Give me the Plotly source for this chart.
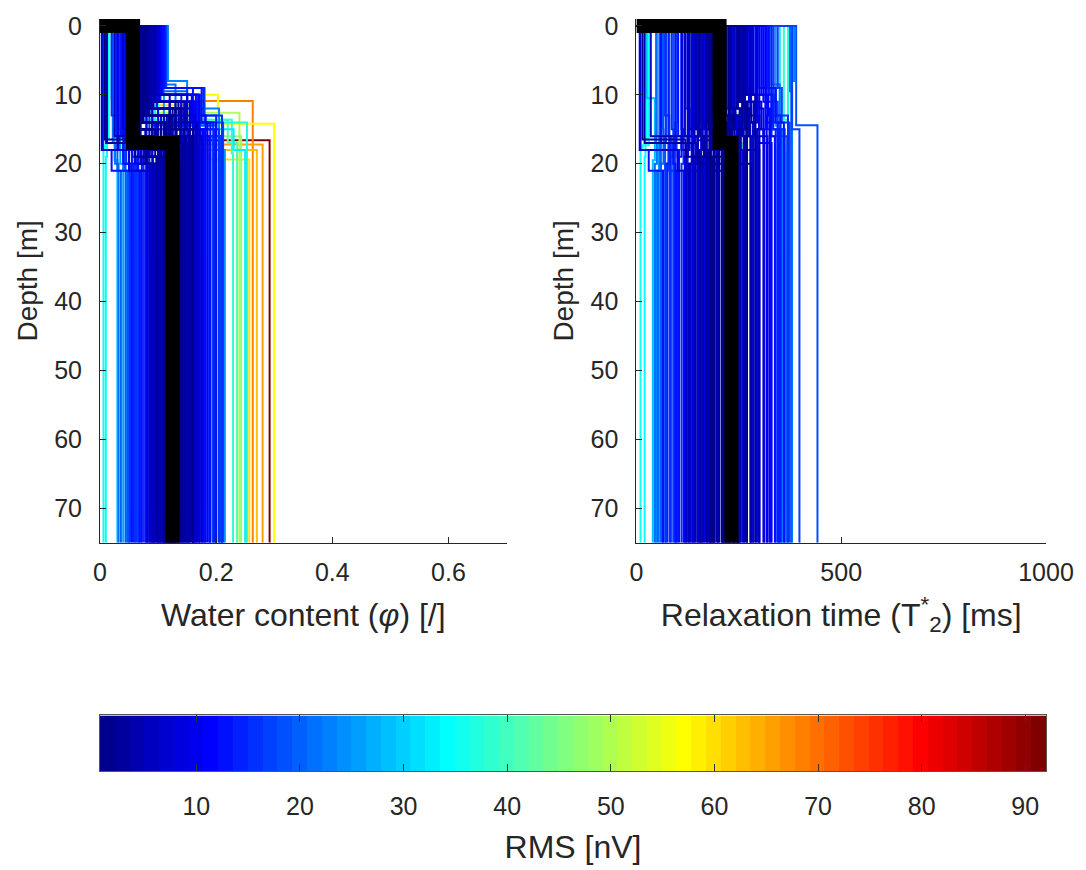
import numpy as np
import plotly.graph_objects as go

# ---------------- data (one entry per inversion model) ----------------
rms = [92.0, 68.5, 66.0, 63.0, 57.0, 59.5, 50.0, 46.5, 42.0,
       38.0, 36.0, 34.5, 37.0, 33.0,
       28.0, 26.0, 24.0, 25.0, 23.0, 21.0, 20.0, 18.0, 17.0,
       19.0, 18.5, 17.5, 16.0, 15.0, 14.0, 13.0, 12.0, 14.5, 16.5, 13.5, 15.5,
       11.0, 10.0, 9.0, 8.0, 7.0, 6.0, 5.0, 4.0, 3.0, 2.0, 1.5, 2.5, 3.5, 4.5,
       5.5, 6.5, 7.5, 8.5, 9.5, 10.5, 11.5, 0.7, 12.5, 1.0, 3.2, 5.2, 7.8,
       1.2, 1.8, 2.2, 2.8, 3.4, 3.8, 4.2, 4.8, 5.4, 5.8, 6.2, 6.8, 7.2, 7.6, 8.2, 8.8,
       9.2, 9.8, 10.2, 10.8, 11.2, 11.8, 12.2, 12.8,
       1.3, 2.3, 3.3, 4.3, 5.3, 6.3, 7.3, 8.3, 9.3, 10.3, 11.3, 12.3,
       1.6, 2.6, 3.6, 4.6, 5.6, 6.6, 7.7, 8.6, 9.6, 10.6, 11.6, 12.6,
       0.9, 1.9, 2.9, 3.9, 4.9, 5.9, 6.9, 7.9, 8.9, 9.9, 10.9, 11.9,
       14.2, 15.2, 16.2, 17.2, 18.2, 13.8, 14.8, 15.8, 16.8, 17.8, 19.5, 20.5, 22.0, 13.2, 14.6]
depth1 = [16.6, 10.9, 12.0, 13.0, 10.0, 11.5, 12.6, 11.0, 13.6,
          13.6, 17.3, 16.5, 14.0, 15.0,
          10.5, 16.0, 15.0, 14.5, 8.0, 8.5, 9.5, 14.4, 15.0,
          16, 15, 14, 13, 15, 12, 17, 11, 10, 9, 9, 10,
          12, 13, 14, 15, 16, 12, 13, 14, 15, 11, 16, 17, 12, 10,
          15, 13, 14, 18, 16, 12, 11, 17, 18, 16.5, 17, 16, 18,
          15, 14, 13, 12, 16, 15, 11, 12, 17, 16, 13, 14, 10, 11, 15, 16,
          12, 13, 14, 11, 15, 10, 17, 16,
          13, 14, 12, 15, 11, 16, 14, 13, 12, 17, 10, 9,
          16, 15, 14, 13, 12, 11, 10, 15, 16, 14, 13, 18,
          14, 13, 15, 16, 12, 11, 17, 13, 14, 10, 11, 16,
          16, 15, 17, 14, 16, 10, 9, 10, 11, 9, 15, 16, 17, 12, 11]
depth2 = [16.6, 10.9, 17.2, 18.0, 14.2, 19.4, 12.6, 16.0, 17.0,
          18.5, 18.0, 19.0, 16.0, 18.0,
          19.5, 20.0, 21.0, 18.0, 12.0, 15.0, 16.0, 14.4, 16.0,
          20, 19, 18, 21, 20, 18, 20, 17, 15, 16, 14, 13,
          18, 19, 17, 18, 19, 16, 17, 18, 19, 15, 18, 18, 14, 16,
          20, 15, 16, 20, 21, 17, 14, 17, 21, 19, 20, 18, 21,
          18, 17, 16, 17, 19, 20, 15, 16, 20, 18, 18, 19, 14, 15, 19, 20,
          16, 17, 18, 16, 17, 15, 21, 19,
          15, 16, 15, 18, 14, 19, 17, 16, 18, 20, 13, 14,
          19, 18, 17, 16, 15, 14, 13, 19, 20, 18, 17, 21,
          17, 16, 18, 18, 16, 15, 19, 17, 18, 14, 15, 19,
          20, 19, 20, 18, 21, 14, 13, 15, 16, 14, 20, 21, 20, 16, 15]
phi1 = [.060, .050, .045, .070, .080, .050, .040, .060, .070,
        .090, .010, .015, .100, .095,
        .020, .030, .035, .110, .117, .112, .100, .090, .085,
        .040, .045, .050, .020, .030, .060, .010, .070, .080, .090, .100, .105,
        .065, .070, .075, .080, .050, .085, .090, .060, .070, .080, .055, .050, .075, .095,
        .040, .085, .060, .030, .045, .090, .100, .060, .005, .008, .012, .025, .003,
        .062, .068, .072, .078, .058, .052, .088, .092, .045, .048, .082, .074, .098, .102, .066, .054,
        .086, .080, .070, .094, .064, .104, .042, .036,
        .076, .070, .084, .064, .096, .056, .068, .080, .090, .046, .106, .110,
        .060, .066, .072, .078, .086, .092, .098, .062, .050, .058, .066, .032,
        .074, .082, .060, .054, .090, .094, .048, .076, .068, .100, .096, .040,
        .038, .042, .032, .046, .028, .108, .112, .106, .102, .114, .036, .026, .022, .098, .104]
phi2 = [.292, .263, .150, .120, .203, .160, .240, .180, .220,
        .227, .008, .012, .253, .230,
        .025, .035, .040, .200, .150, .130, .150, .200, .170,
        .045, .055, .060, .050, .060, .080, .040, .120, .140, .150, .160, .170,
        .100, .090, .110, .100, .070, .120, .130, .090, .100, .130, .100, .110, .140, .120,
        .070, .150, .140, .060, .080, .140, .170, .120, .020, .060, .080, .090, .050,
        .095, .105, .115, .125, .085, .078, .135, .145, .070, .075, .110, .100, .150, .155, .090, .080,
        .140, .125, .095, .160, .100, .165, .065, .060,
        .120, .110, .130, .095, .145, .085, .115, .130, .140, .075, .170, .175,
        .095, .100, .110, .120, .130, .140, .150, .085, .075, .090, .105, .055,
        .112, .122, .090, .088, .138, .148, .078, .118, .098, .158, .162, .066,
        .050, .055, .045, .058, .042, .172, .178, .168, .172, .180, .040, .030, .026, .160, .166]
phi3 = [.292, .263, .280, .270, .300, .257, .240, .243, .236,
        .229, .006, .010, .253, .250,
        .030, .040, .045, .215, .205, .180, .195, .200, .210,
        .050, .060, .065, .070, .075, .085, .080, .170, .180, .190, .200, .210,
        .110, .100, .120, .130, .090, .140, .150, .105, .115, .160, .125, .130, .155, .145,
        .095, .165, .175, .085, .100, .160, .185, .128, .055, .110, .140, .160, .120,
        .112, .118, .135, .142, .098, .092, .152, .158, .088, .082, .138, .122, .168, .172, .108, .094,
        .148, .135, .102, .162, .112, .178, .078, .072,
        .132, .126, .146, .106, .166, .104, .124, .142, .152, .092, .182, .190,
        .116, .120, .128, .134, .144, .154, .164, .097, .087, .103, .117, .068,
        .124, .137, .109, .101, .149, .161, .091, .129, .114, .171, .176, .081,
        .058, .062, .052, .066, .048, .195, .200, .205, .208, .212, .044, .036, .032, .188, .198]
t2_1 = [150, 170, 160, 200, 140, 180, 220, 130, 210,
        360, 30, 25, 370, 350,
        25, 50, 60, 340, 385, 330, 375, 390, 380,
        80, 90, 100, 70, 110, 120, 60, 260, 280, 300, 310, 290,
        150, 160, 180, 200, 140, 220, 240, 170, 190, 250, 205, 200, 260, 270,
        130, 280, 230, 110, 150, 300, 310, 210, 10, 15, 20, 35, 8,
        175, 185, 215, 225, 155, 145, 255, 265, 125, 118, 212, 185, 285, 295, 165, 135,
        245, 235, 172, 275, 190, 305, 112, 102,
        228, 208, 248, 178, 276, 162, 198, 238, 258, 138, 315, 322,
        182, 192, 205, 218, 232, 252, 268, 148, 128, 158, 178, 95,
        212, 226, 170, 152, 244, 262, 142, 220, 188, 282, 292, 118,
        78, 86, 72, 96, 66, 325, 330, 318, 335, 345, 64, 56, 48, 316, 322]
t2_2 = [180, 200, 190, 230, 180, 200, 250, 160, 230,
        370, 15, 22, 360, 355,
        45, 55, 60, 350, 380, 350, 378, 442, 398,
        85, 95, 95, 80, 115, 130, 90, 300, 320, 330, 340, 330,
        160, 170, 190, 210, 150, 230, 250, 180, 200, 270, 215, 210, 280, 290,
        140, 300, 260, 120, 165, 310, 320, 225, 30, 120, 150, 200, 100,
        185, 195, 225, 240, 165, 150, 265, 275, 135, 128, 222, 195, 295, 305, 172, 145,
        255, 245, 182, 290, 198, 315, 122, 110,
        238, 218, 258, 188, 286, 170, 205, 248, 268, 146, 322, 330,
        190, 200, 212, 228, 242, 262, 278, 158, 136, 168, 186, 104,
        220, 234, 178, 160, 252, 272, 148, 230, 196, 292, 300, 126,
        82, 90, 78, 98, 70, 335, 340, 332, 345, 355, 66, 58, 50, 326, 334]
t2_3 = [180, 200, 220, 250, 230, 240, 250, 200, 260,
        365, 10, 20, 362, 358,
        40, 55, 48, 345, 380, 355, 378, 442, 398,
        70, 85, 90, 100, 110, 125, 95, 330, 340, 350, 360, 370,
        150, 160, 180, 200, 140, 220, 245, 175, 195, 270, 230, 240, 290, 300,
        130, 310, 320, 120, 165, 300, 325, 235, 65, 210, 280, 300, 250,
        180, 190, 215, 225, 155, 145, 255, 265, 128, 122, 212, 186, 285, 292, 168, 136,
        250, 238, 172, 280, 190, 312, 115, 104,
        228, 208, 248, 178, 278, 162, 198, 240, 260, 138, 318, 328,
        185, 202, 210, 218, 235, 252, 270, 150, 132, 158, 182, 98,
        214, 226, 172, 155, 246, 262, 142, 222, 188, 285, 296, 118,
        76, 82, 72, 94, 64, 345, 352, 362, 368, 374, 60, 52, 45, 338, 348]

best_depth = [17.0]
best_phi = [0.057, 0.125]
best_t2 = [203, 232]

depth_max = 75
depth_ticks = [0, 10, 20, 30, 40, 50, 60, 70]
phi_ticks = [0, 0.2, 0.4, 0.6]
phi_ticktext = ["0", "0.2", "0.4", "0.6"]
t2_ticks = [0, 500, 1000]
rms_ticks = [10, 20, 30, 40, 50, 60, 70, 80, 90]

_n = len(rms)
for _a in (depth1, depth2, phi1, phi2, phi3, t2_1, t2_2, t2_3):
    assert len(_a) == _n, (len(_a), _n)


# ---------------- colormap (MATLAB jet, 64 levels) ----------------
def jet(m=64):
    n = int(np.ceil(m / 4))
    u = np.concatenate([np.arange(1, n + 1) / n, np.ones(n - 1), np.arange(n, 0, -1) / n])
    g = int(np.ceil(n / 2)) - (1 if m % 4 == 1 else 0) + np.arange(1, len(u) + 1)
    r = g + n
    b = g - n
    J = np.zeros((m, 3))
    for idxs, ch in ((r, 0), (g, 1), (b, 2)):
        for k, ix in enumerate(idxs):
            if 1 <= ix <= m:
                J[ix - 1, ch] = u[k]
    return J


CM = jet(64)
cmin, cmax = min(rms), max(rms)


def rgb(c):
    return "rgb(%d,%d,%d)" % tuple(int(round(v * 255)) for v in c)


def color_of(v):
    i = int(np.floor((v - cmin) / (cmax - cmin) * 64))
    i = max(0, min(63, i))
    return rgb(CM[i])


FONT = "Liberation Sans, Arial, Helvetica, sans-serif"
AX = "#262626"

fig = go.Figure()

order = np.argsort(rms, kind="stable")[::-1]
for k in order:
    col = color_of(rms[k])
    ys = [0, 0, depth1[k], depth1[k], depth2[k], depth2[k], depth_max]
    xp = [0, phi1[k], phi1[k], phi2[k], phi2[k], phi3[k], phi3[k]]
    xt = [0, t2_1[k], t2_1[k], t2_2[k], t2_2[k], t2_3[k], t2_3[k]]
    fig.add_trace(go.Scatter(x=xp, y=ys, mode="lines", line=dict(color=col, width=2),
                             xaxis="x", yaxis="y", showlegend=False, hoverinfo="skip"))
    fig.add_trace(go.Scatter(x=xt, y=ys, mode="lines", line=dict(color=col, width=2),
                             xaxis="x2", yaxis="y2", showlegend=False, hoverinfo="skip"))

yb = [0, 0, best_depth[0], best_depth[0], depth_max]
fig.add_trace(go.Scatter(x=[0, best_phi[0], best_phi[0], best_phi[1], best_phi[1]], y=yb,
                         mode="lines", line=dict(color="black", width=14),
                         xaxis="x", yaxis="y", showlegend=False, hoverinfo="skip"))
fig.add_trace(go.Scatter(x=[0, best_t2[0], best_t2[0], best_t2[1], best_t2[1]], y=yb,
                         mode="lines", line=dict(color="black", width=14),
                         xaxis="x2", yaxis="y2", showlegend=False, hoverinfo="skip"))

# colorbar as a heatmap strip
edges = np.linspace(cmin, cmax, 65)
centers = (edges[:-1] + edges[1:]) / 2
cs = []
for i in range(64):
    cs.append([i / 64, rgb(CM[i])])
    cs.append([(i + 1) / 64, rgb(CM[i])])
fig.add_trace(go.Heatmap(x=centers, y=[0], z=[[i + 0.5 for i in range(64)]],
                         zmin=0, zmax=64, colorscale=cs, showscale=False,
                         xaxis="x3", yaxis="y3", hoverinfo="skip"))

W, H = 1086, 870
ml, mr, mt, mb = 100, 39, 15, 97
pw = W - ml - mr
ph = H - mt - mb
main_bottom = (H - mb - 543) / ph
cb_top = (H - mb - 717) / ph

tickfont = dict(family=FONT, size=25, color=AX)
xtitlefont = dict(family=FONT, size=32, color=AX)
ytitlefont = dict(family=FONT, size=28, color=AX)

common_x = dict(showline=True, linecolor=AX, linewidth=1, ticks="inside", ticklen=6,
                tickcolor=AX, showgrid=False, zeroline=False, tickfont=tickfont,
                ticklabelstandoff=7)
common_y = dict(showline=True, linecolor=AX, linewidth=1, ticks="inside", ticklen=6,
                tickcolor=AX, showgrid=False, zeroline=False, tickfont=tickfont,
                range=[depth_max, -1.0], tickvals=depth_ticks, domain=[main_bottom, 1],
                ticklabelstandoff=12)

fig.update_layout(
    width=W, height=H,
    margin=dict(l=ml, r=mr, t=mt, b=mb),
    paper_bgcolor="white", plot_bgcolor="white",
    font=dict(family=FONT, color=AX),
    xaxis=dict(common_x, domain=[0, 407 / pw], range=[0, 0.7], tickvals=phi_ticks,
               ticktext=phi_ticktext, anchor="y",
               title=dict(text="Water content (<i>φ</i>) [/]", font=xtitlefont, standoff=18)),
    yaxis=dict(common_y, anchor="x",
               title=dict(text="Depth [m]", font=ytitlefont, standoff=8)),
    xaxis2=dict(common_x, domain=[537 / pw, 1], range=[0, 1000], tickvals=t2_ticks,
                anchor="y2",
                title=dict(text="Relaxation time (T<sup>*</sup><sub>2</sub>) [ms]",
                           font=xtitlefont, standoff=18)),
    yaxis2=dict(common_y, anchor="x2",
                title=dict(text="Depth [m]", font=ytitlefont, standoff=8)),
    xaxis3=dict(domain=[0, 1], range=[cmin, cmax], anchor="y3", tickvals=rms_ticks,
                ticks="inside", ticklen=7, tickcolor="#333333", showline=True,
                linecolor="#555555", linewidth=1, mirror="ticks", showgrid=False,
                zeroline=False, tickfont=tickfont, ticklabelstandoff=13,
                title=dict(text="RMS [nV]", font=xtitlefont, standoff=16)),
    yaxis3=dict(domain=[0, cb_top], range=[-0.5, 0.5], anchor="x3", showticklabels=False,
                ticks="", showline=True, linecolor="#555555", linewidth=1, mirror=True,
                showgrid=False, zeroline=False),
)

fig.write_html("out.html")
